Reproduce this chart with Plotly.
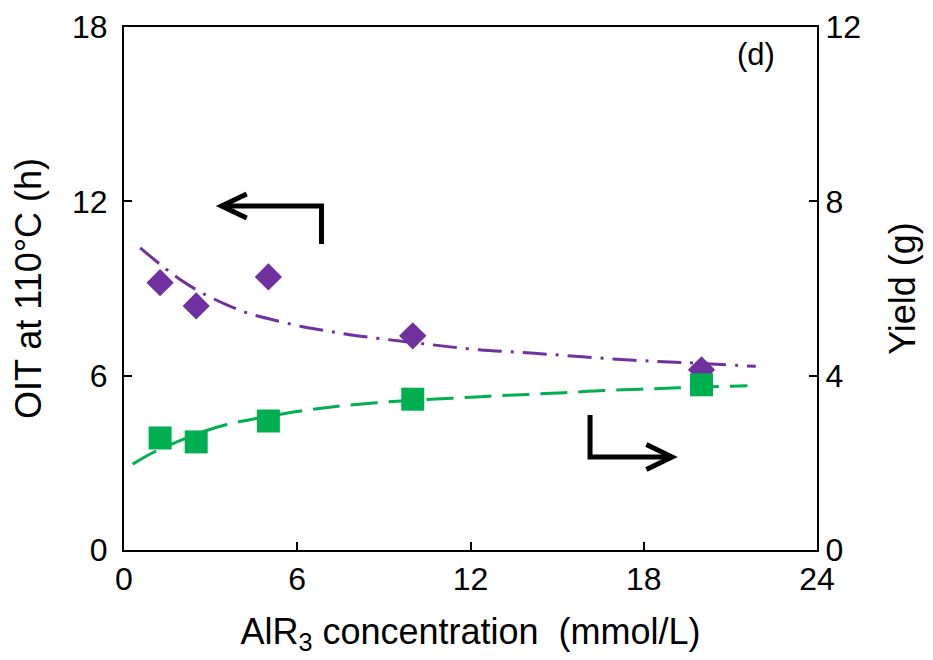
import plotly.graph_objects as go

# Measured data
conc = [1.25, 2.5, 5, 10, 20]
oit = [9.2, 8.4, 9.4, 7.37, 6.2]
yield_g = [2.57, 2.48, 2.96, 3.46, 3.79]

# Fit curves
oit_fit_x = [0.56, 1.29, 1.97, 2.75, 3.56, 4.36, 5.22, 6.15, 7.01, 7.87, 8.91, 10.52, 12.29, 14.09, 15.87, 17.66, 19.44, 21.88]
oit_fit_y = [10.40, 9.80, 9.29, 8.82, 8.44, 8.13, 7.91, 7.69, 7.54, 7.40, 7.27, 7.08, 6.89, 6.78, 6.65, 6.53, 6.45, 6.32]
yield_fit_x = [0.30, 1.08, 2.81, 3.56, 4.53, 6.12, 7.41, 9.60, 11.35, 12.65, 13.98, 15.26, 16.60, 17.89, 19.21, 21.59]
yield_fit_y = [1.97, 2.26, 2.73, 2.88, 3.01, 3.19, 3.30, 3.42, 3.48, 3.53, 3.57, 3.61, 3.66, 3.69, 3.72, 3.77]

x_ticks = [0, 6, 12, 18, 24]
y1_ticks = [0, 6, 12, 18]
y2_ticks = [0, 4, 8, 12]

PURPLE = "#7030A0"
GREEN = "#00B050"
FONT = "Liberation Sans, Arial, sans-serif"

fig = go.Figure()
fig.add_trace(go.Scatter(x=oit_fit_x, y=oit_fit_y, mode="lines", line=dict(color=PURPLE, width=3, dash="24px,9px,3px,9px", shape="spline"), yaxis="y", showlegend=False, hoverinfo="skip"))
fig.add_trace(go.Scatter(x=yield_fit_x, y=yield_fit_y, mode="lines", line=dict(color=GREEN, width=3, dash="27px,11px", shape="spline"), yaxis="y2", showlegend=False, hoverinfo="skip"))
fig.add_trace(go.Scatter(x=conc, y=oit, mode="markers", marker=dict(symbol="diamond", size=21, color=PURPLE), yaxis="y", showlegend=False))
fig.add_trace(go.Scatter(x=conc, y=yield_g, mode="markers", marker=dict(symbol="square", size=23, color=GREEN), yaxis="y2", showlegend=False))

# Arrows (decorations)
arrow_style = dict(type="path", xref="x", yref="y", line=dict(color="black", width=5))
fig.add_shape(path="M 6.84 10.53 L 6.84 11.84 L 3.38 11.84", **arrow_style)
fig.add_shape(path="M 4.25 12.25 L 3.38 11.84 L 4.25 11.43", **arrow_style)
fig.add_shape(path="M 16.14 4.65 L 16.14 3.20 L 18.98 3.20", **arrow_style)
fig.add_shape(path="M 18.09 3.63 L 18.98 3.20 L 18.09 2.77", **arrow_style)

fig.add_annotation(x=21.9, y=17.07, xref="x", yref="y", text="(d)", showarrow=False, font=dict(size=31, color="black", family=FONT))

axis_common = dict(showgrid=False, zeroline=False, showline=True, linecolor="black", linewidth=2, ticks="inside", ticklen=8, tickwidth=2, tickcolor="black", automargin=False, tickfont=dict(size=32, color="black", family=FONT))

fig.update_layout(
    width=933, height=660,
    margin=dict(l=116, r=124, t=19, b=118),
    paper_bgcolor="white", plot_bgcolor="white",
    font=dict(family=FONT, color="black"),
    xaxis=dict(range=[0, 24], tickvals=x_ticks, mirror=True,
               title=dict(text="AlR<sub>3</sub> concentration  (mmol/L)", font=dict(size=36, family=FONT), standoff=22), **axis_common),
    yaxis=dict(range=[0, 18], tickvals=y1_ticks, ticklabelstandoff=8,
               title=dict(text="OIT at 110°C (h)", font=dict(size=36, family=FONT), standoff=19), **axis_common),
    yaxis2=dict(range=[0, 12], tickvals=y2_ticks, overlaying="y", side="right", ticklabelstandoff=0,
                title=dict(text="Yield (g)", font=dict(size=36, family=FONT), standoff=30), **axis_common),
)

fig.write_html("out.html")
